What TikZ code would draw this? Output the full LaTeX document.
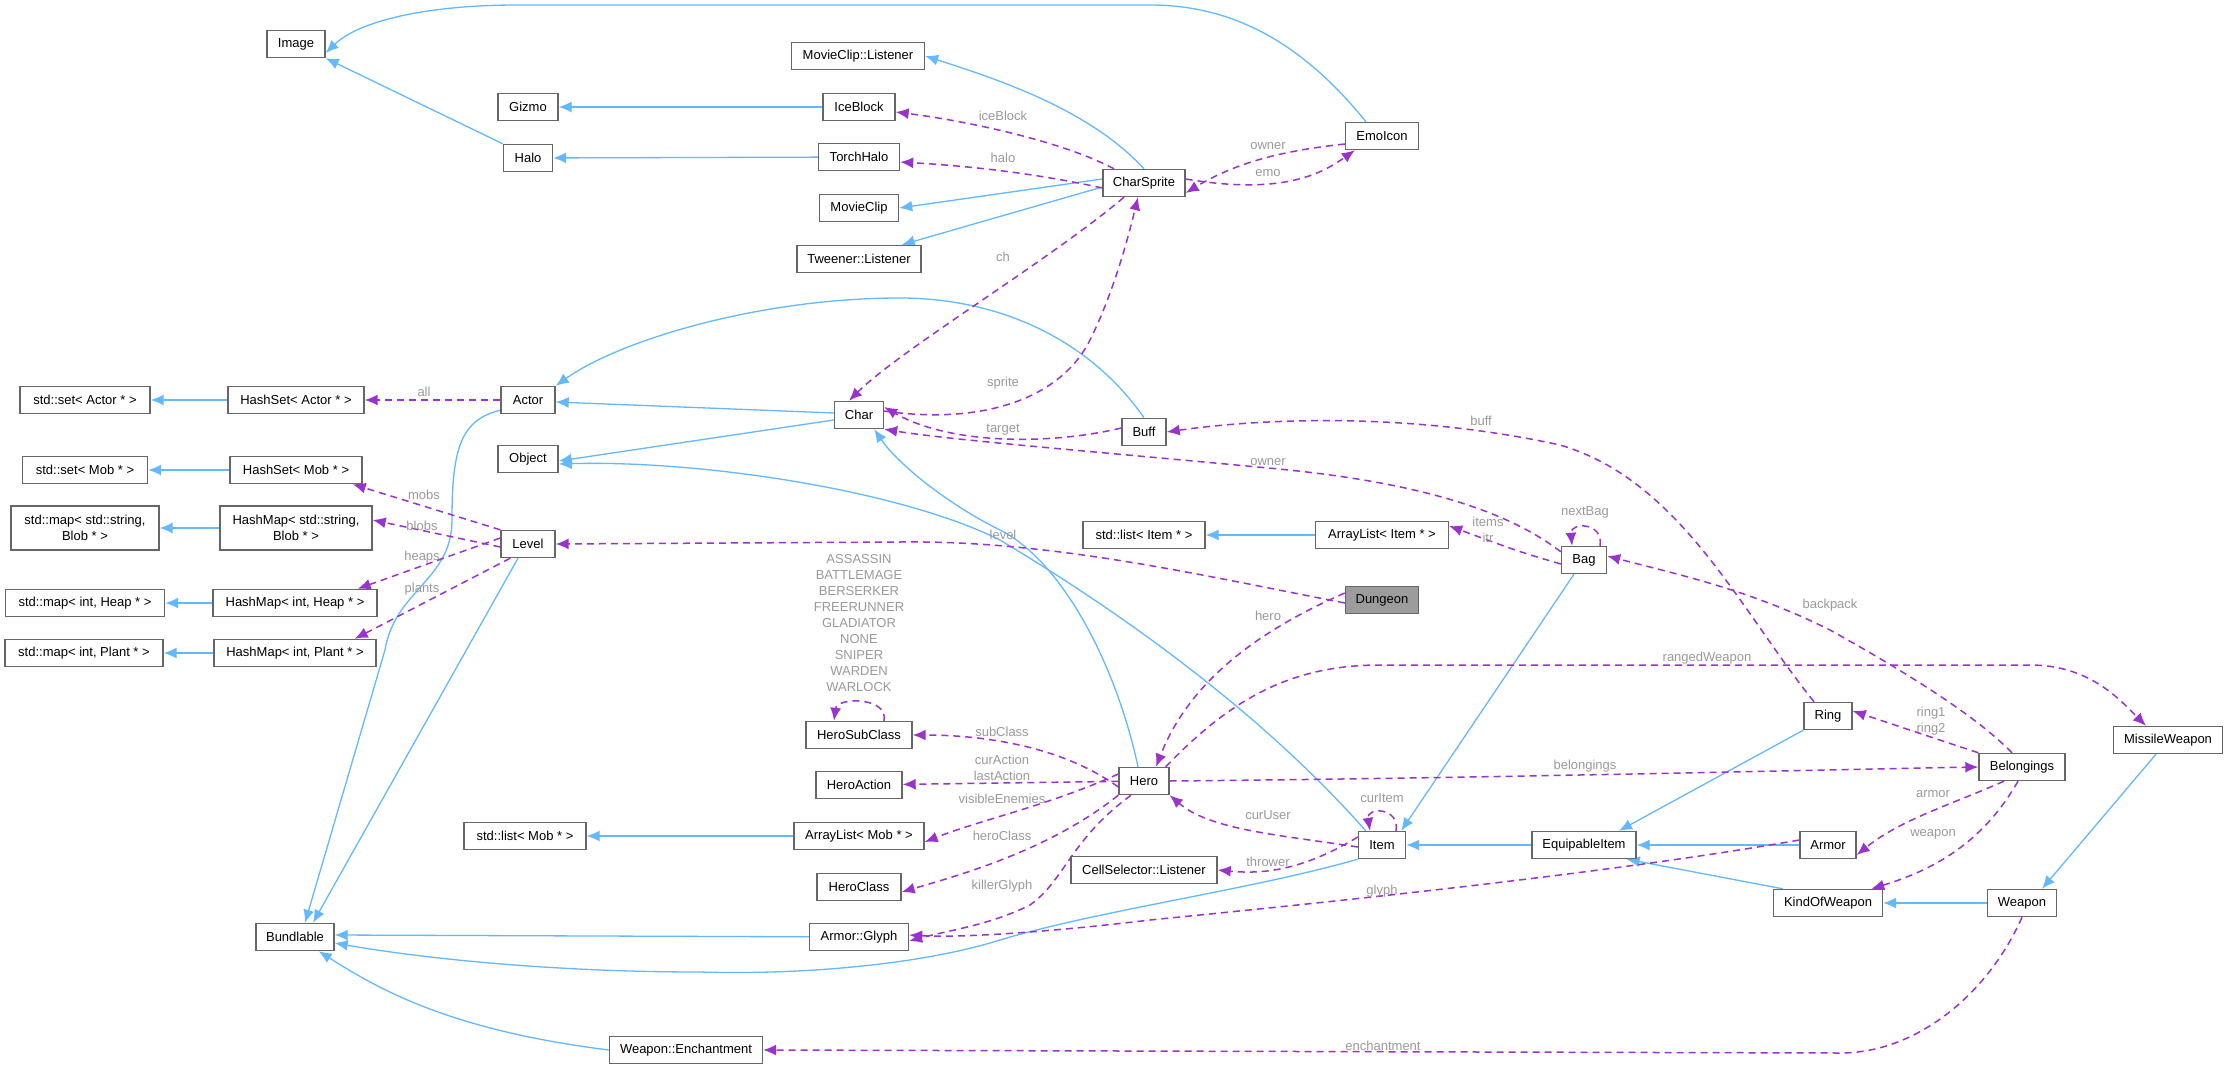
\documentclass[tikz,border=0pt]{standalone}
\usepackage{fontspec}
\setmainfont{Liberation Sans}
\usetikzlibrary{arrows.meta}
\definecolor{blu}{HTML}{63B8FF}
\definecolor{pur}{HTML}{9A32CD}
\definecolor{boxc}{HTML}{666666}
\definecolor{labc}{HTML}{9A9A9A}
\newcommand{\fsz}{\fontsize{13}{16}\selectfont}
\pgfdeclarelayer{bg}
\pgfsetlayers{bg,main}
\begin{document}
\begin{tikzpicture}[x=1pt,y=-1pt,
  cls/.style={draw=boxc, line width=1.4, fill=white, font=\fsz, minimum height=27pt, inner xsep=3pt, inner ysep=0pt, align=center},
  inh/.style={draw=blu, line width=1.3, -{Latex[length=13pt,width=11pt]}},
  dep/.style={draw=pur, line width=1.5, dash pattern=on 7pt off 5pt, -{Latex[length=13pt,width=11pt]}},
  lbl/.style={font=\fsz, text=labc, inner sep=0pt, align=center}]
\begin{pgfonlayer}{bg}
\useasboundingbox[fill=white] (0,0) rectangle (2229,1068);
\end{pgfonlayer}
% nodes
\node[cls,minimum width=58pt] (img) at (296,44) {Image};
\node[cls,minimum width=133pt] (mcl) at (858,56) {MovieClip::Listener};
\node[cls,minimum width=60pt] (giz) at (528,107) {Gizmo};
\node[cls,minimum width=72pt] (ice) at (859,107) {IceBlock};
\node[cls,minimum width=49pt] (halo) at (528,158) {Halo};
\node[cls,minimum width=81pt] (th) at (859,157) {TorchHalo};
\node[cls,minimum width=73pt] (emo) at (1382,136) {EmoIcon};
\node[cls,minimum width=82pt] (cs) at (1144,183) {CharSprite};
\node[cls,minimum width=79pt] (mc) at (859,208) {MovieClip};
\node[cls,minimum width=124pt] (twl) at (859,259) {Tweener::Listener};
\node[cls,minimum width=130pt] (ssa) at (85,400) {std::set\textless{} Actor * \textgreater{}};
\node[cls,minimum width=136pt] (hsa) at (296,400) {HashSet\textless{} Actor * \textgreater{}};
\node[cls,minimum width=54pt] (actor) at (528,400) {Actor};
\node[cls,minimum width=49pt] (chr) at (859,415) {Char};
\node[cls,minimum width=44pt] (buff) at (1144,432) {Buff};
\node[cls,minimum width=60pt] (obj) at (528,459) {Object};
\node[cls,minimum width=125pt] (ssm) at (85,470) {std::set\textless{} Mob * \textgreater{}};
\node[cls,minimum width=132pt] (hsm) at (296,470) {HashSet\textless{} Mob * \textgreater{}};
\node[cls,minimum width=148pt,minimum height=44pt] (sms) at (85,528) {std::map\textless{} std::string,\\Blob * \textgreater{}};
\node[cls,minimum width=152pt,minimum height=44pt] (hms) at (296,528) {HashMap\textless{} std::string,\\Blob * \textgreater{}};
\node[cls,minimum width=54pt] (lvl) at (528,544) {Level};
\node[cls,minimum width=122pt] (sli) at (1144,535) {std::list\textless{} Item * \textgreater{}};
\node[cls,minimum width=133pt] (ali) at (1382,535) {ArrayList\textless{} Item * \textgreater{}};
\node[cls,minimum width=45pt] (bag) at (1584,560) {Bag};
\node[cls,minimum width=73pt,fill=boxc!65] (dng) at (1382,600) {Dungeon};
\node[cls,minimum width=159pt] (smh) at (85,603) {std::map\textless{} int, Heap * \textgreater{}};
\node[cls,minimum width=164pt] (hmh) at (295,603) {HashMap\textless{} int, Heap * \textgreater{}};
\node[cls,minimum width=158pt] (smp) at (84,653) {std::map\textless{} int, Plant * \textgreater{}};
\node[cls,minimum width=162pt] (hmp) at (295,653) {HashMap\textless{} int, Plant * \textgreater{}};
\node[cls,minimum width=106pt] (hsc) at (859,735) {HeroSubClass};
\node[cls,minimum width=48pt] (ring) at (1828,716) {Ring};
\node[cls,minimum width=109pt] (mw) at (2168,740) {MissileWeapon};
\node[cls,minimum width=86pt] (bel) at (2022,767) {Belongings};
\node[cls,minimum width=50pt] (hero) at (1144,781) {Hero};
\node[cls,minimum width=86pt] (ha) at (859,785) {HeroAction};
\node[cls,minimum width=122pt] (slm) at (525,836) {std::list\textless{} Mob * \textgreater{}};
\node[cls,minimum width=130pt] (alm) at (859,836) {ArrayList\textless{} Mob * \textgreater{}};
\node[cls,minimum width=104pt] (eqi) at (1584,845) {EquipableItem};
\node[cls,minimum width=47pt] (item) at (1382,845) {Item};
\node[cls,minimum width=56pt] (armor) at (1828,845) {Armor};
\node[cls,minimum width=84pt] (hcl) at (859,887) {HeroClass};
\node[cls,minimum width=146pt] (csl) at (1144,870) {CellSelector::Listener};
\node[cls,minimum width=109pt] (kow) at (1828,903) {KindOfWeapon};
\node[cls,minimum width=69pt] (wpn) at (2022,903) {Weapon};
\node[cls,minimum width=78pt] (bnd) at (295,937) {Bundlable};
\node[cls,minimum width=99pt] (ag) at (859,937) {Armor::Glyph};
\node[cls,minimum width=153pt] (we) at (686,1050) {Weapon::Enchantment};
\begin{pgfonlayer}{bg}
% inheritance
\draw[inh] (halo.north west) -- (img.south east);
\draw[inh] (ice) -- (giz);
\draw[inh] (th) -- (halo);
\draw[inh] (cs.north) .. controls (1090,110) and (1000,80) .. (mcl.east);
\draw[inh] ([yshift=4pt]cs.west) -- (mc.east);
\draw[inh] ([yshift=-4pt]cs.west) -- ([xshift=-20pt]twl.north east);
\draw[inh] ([xshift=-16pt]emo.north) .. controls (1300,40) and (1230,5) .. (1150,5) -- (517,5) .. controls (430,5) and (360,20) .. ([yshift=-9pt]img.east);
\draw[inh] (buff.north) .. controls (1090,340) and (1000,298) .. (900,298) .. controls (760,298) and (620,340) .. (actor.north east);
\draw[inh] ([yshift=2pt]chr.west) -- ([yshift=-2pt]actor.east);
\draw[inh] ([yshift=-5pt]chr.west) -- ([yshift=-2pt]obj.east);
\draw[inh] ([xshift=-6pt]hero.north) .. controls (1115,660) and (1060,560) .. (1000,530) .. controls (940,500) and (895,460) .. ([xshift=-10pt]chr.south east);
\draw[inh] ([xshift=8pt]item.north west) .. controls (1250,700) and (1100,600) .. (1000,540) .. controls (900,490) and (700,460) .. ([yshift=-5pt]obj.east);
\draw[inh] ([yshift=4pt]actor.south west) .. controls (460,420) and (452,450) .. (452,520) .. controls (452,580) and (395,590) .. (385,650) -- ([xshift=10pt]bnd.north);
\draw[inh] ([xshift=-10pt]lvl.south) -- ([xshift=18pt]bnd.north);
\draw[inh] (item.south west) .. controls (1250,890) and (1100,910) .. (1000,940) .. controls (920,965) and (800,975) .. (700,972) .. controls (550,972) and (420,958) .. ([yshift=-6pt]bnd.east);
\draw[inh] (ag) -- ([yshift=2pt]bnd.east);
\draw[inh] (we.west) .. controls (450,1030) and (380,990) .. ([xshift=-16pt]bnd.south east);
\draw[inh] (hsa) -- (ssa);
\draw[inh] (hsm) -- (ssm);
\draw[inh] (hms) -- (sms);
\draw[inh] (hmh) -- (smh);
\draw[inh] (hmp) -- (smp);
\draw[inh] (ali) -- (sli);
\draw[inh] (alm) -- (slm);
\draw[inh] ([xshift=-10pt]bag.south) -- ([xshift=-5pt]item.north east);
\draw[inh] (eqi) -- (item);
\draw[inh] (ring.south west) -- ([xshift=35pt]eqi.north);
\draw[inh] (armor) -- (eqi);
\draw[inh] ([xshift=10pt]kow.north west) -- ([xshift=-10pt]eqi.south east);
\draw[inh] (wpn) -- (kow);
\draw[inh] ([xshift=-12pt]mw.south) -- ([xshift=20pt]wpn.north);
% dependencies
\draw[dep] ([xshift=-30pt]cs.north) .. controls (1060,140) and (960,120) .. ([yshift=-5pt]ice.east) node[lbl] at (1003,116) {iceBlock};
\draw[dep] ([yshift=-5pt]cs.west) .. controls (1020,170) and (950,165) .. ([yshift=-5pt]th.east) node[lbl] at (1003,158) {halo};
\draw[dep] ([yshift=-8pt]emo.west) .. controls (1290,150) and (1240,160) .. ([yshift=-10pt]cs.east) node[lbl] at (1268,146) {owner};
\draw[dep] ([yshift=4pt]cs.east) .. controls (1280,195) and (1320,175) .. ([xshift=10pt]emo.south west) node[lbl] at (1268,173) {emo};
\draw[dep] ([xshift=-20pt]cs.south) .. controls (1050,260) and (900,350) .. ([xshift=-10pt]chr.north) node[lbl] at (1003,257) {ch};
\draw[dep] ([yshift=4pt]chr.east) .. controls (980,425) and (1060,400) .. (1090,340) .. controls (1115,290) and (1130,230) .. ([xshift=-6pt]cs.south) node[lbl] at (1003,383) {sprite};
\draw[dep] ([yshift=4pt]buff.west) .. controls (1050,445) and (950,445) .. ([yshift=8pt]chr.east) node[lbl] at (1003,430) {target};
\draw[dep] ([yshift=-6pt]bag.north west) .. controls (1500,505) and (1400,480) .. (1268,468) .. controls (1100,452) and (950,440) .. (chr.south east) node[lbl] at (1268,462) {owner};
\draw[dep] ([xshift=-14pt]ring.north) .. controls (1740,610) and (1680,480) .. (1560,445) .. controls (1400,410) and (1250,420) .. (buff.east) node[lbl] at (1481,421) {buff};
\draw[dep] (actor) -- (hsa) node[lbl] at (424,392) {all};
\draw[dep] (lvl.north west) -- ([xshift=-10pt]hsm.south east) node[lbl] at (424,495) {mobs};
\draw[dep] ([yshift=-3pt]lvl.west) -- ([yshift=8pt]hms.east) node[lbl] at (422,526) {blobs};
\draw[dep] ([yshift=6pt]lvl.west) -- ([xshift=-20pt]hmh.north east) node[lbl] at (422,557) {heaps};
\draw[dep] ([xshift=10pt]lvl.south west) -- ([xshift=-22pt]hmp.north east) node[lbl] at (422,589) {plants};
\draw[dep] ([yshift=-3pt]dng.west) .. controls (1200,575) and (1050,540) .. (900,542) -- (lvl.east) node[lbl] at (1003,535) {level};
\draw[dep] ([yshift=-4pt]bag.west) .. controls (1520,552) .. ([yshift=9pt]ali.east) node[lbl] at (1488,530) {items\\itr};
\draw[dep] ([xshift=16pt]bag.north) .. controls ([xshift=20pt,yshift=24pt]bag.north) and ([xshift=-14pt,yshift=24pt]bag.north) .. ([xshift=-12pt]bag.north) node[lbl] at (1585,512) {nextBag};
\draw[dep] ([xshift=-10pt]bel.north) .. controls (1980,720) and (1920,680) .. (1830,630) .. controls (1750,590) and (1680,575) .. ([yshift=4pt]bag.east) node[lbl] at (1830,605) {backpack};
\draw[dep] ([yshift=7pt]dng.west) .. controls (1260,630) and (1190,680) .. ([xshift=12pt]hero.north) node[lbl] at (1268,616) {hero};
\draw[dep] ([xshift=-4pt]hero.north east) .. controls (1230,700) and (1290,665) .. (1380,665) -- (2030,665) .. controls (2090,665) and (2120,700) .. ([xshift=-22pt]mw.north) node[lbl] at (1707,658) {rangedWeapon};
\draw[dep] ([xshift=25pt]hsc.north) .. controls ([xshift=30pt,yshift=24pt]hsc.north) and ([xshift=-22pt,yshift=24pt]hsc.north) .. ([xshift=-25pt]hsc.north) node[lbl] at (859,623) {ASSASSIN\\BATTLEMAGE\\BERSERKER\\FREERUNNER\\GLADIATOR\\NONE\\SNIPER\\WARDEN\\WARLOCK};
\draw[dep] ([yshift=-6pt]hero.west) .. controls (1060,745) and (980,735) .. (hsc.east) node[lbl] at (1002,732) {subClass};
\draw[dep] (hero) -- (ha) node[lbl] at (1002,768) {curAction\\lastAction};
\draw[dep] ([yshift=7pt]hero.west) .. controls (1050,805) and (980,820) .. ([yshift=-6pt]alm.east) node[lbl] at (1002,799) {visibleEnemies};
\draw[dep] (hero.south west) .. controls (1050,850) and (960,875) .. ([yshift=-5pt]hcl.east) node[lbl] at (1002,836) {heroClass};
\draw[dep] ([xshift=-13pt]hero.south) .. controls (1070,840) and (1065,880) .. (1030,905) .. controls (990,925) and (950,930) .. ([yshift=-4pt]ag.east) node[lbl] at (1002,886) {killerGlyph};
\draw[dep] (hero.east) .. controls (1500,778) and (1800,770) .. (bel.west) node[lbl] at (1585,766) {belongings};
\draw[dep] ([yshift=-2pt]item.west) .. controls (1280,835) and (1210,830) .. (hero.south east) node[lbl] at (1268,815) {curUser};
\draw[dep] ([xshift=14pt]item.north) .. controls ([xshift=18pt,yshift=24pt]item.north) and ([xshift=-16pt,yshift=24pt]item.north) .. ([xshift=-12pt]item.north) node[lbl] at (1382,798) {curItem};
\draw[dep] ([yshift=8pt]item.west) .. controls (1300,872) and (1260,874) .. (csl.east) node[lbl] at (1268,862) {thrower};
\draw[dep] ([yshift=5pt]armor.west) .. controls (1600,875) and (1300,905) .. (1150,920) .. controls (1050,932) and (960,938) .. ([yshift=2pt]ag.east) node[lbl] at (1382,891) {glyph};
\draw[dep] (bel.north west) -- ([yshift=5pt]ring.east) node[lbl] at (1931,721) {ring1\\ring2};
\draw[dep] ([xshift=-18pt]bel.south) .. controls (1950,805) and (1900,820) .. ([yshift=-10pt]armor.east) node[lbl] at (1933,794) {armor};
\draw[dep] ([xshift=-4pt]bel.south) .. controls (1990,830) and (1950,865) .. ([xshift=-12pt]kow.north east) node[lbl] at (1933,834) {weapon};
\draw[dep] (wpn.south) .. controls (1990,990) and (1920,1053) .. (1840,1053) -- (we.east) node[lbl] at (1383,1046) {enchantment};
\end{pgfonlayer}
\end{tikzpicture}
\end{document}
